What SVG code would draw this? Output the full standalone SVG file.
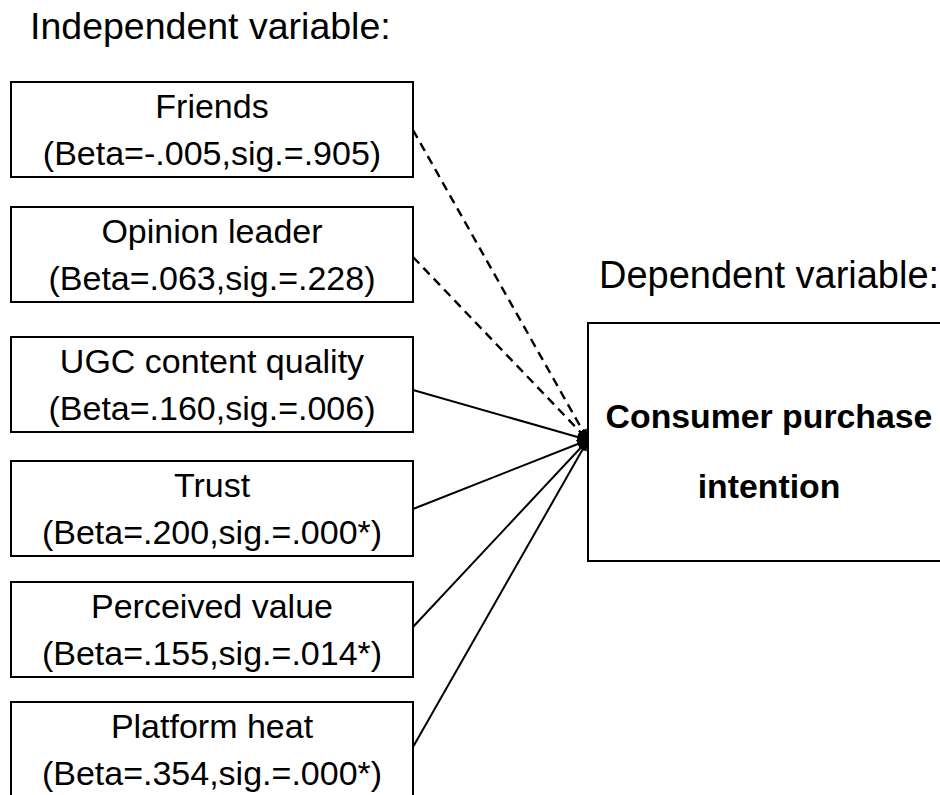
<svg xmlns="http://www.w3.org/2000/svg" width="940" height="795" viewBox="0 0 940 795">
<style>
.box{fill:#fff;stroke:#000;stroke-width:2}
.t{font-family:"Liberation Sans",Arial,sans-serif;font-size:34px;fill:#000;text-anchor:middle}
.h{font-family:"Liberation Sans",Arial,sans-serif;font-size:37.5px;fill:#000}
.b{font-family:"Liberation Sans",Arial,sans-serif;font-size:33.8px;font-weight:bold;fill:#000;text-anchor:middle}
.c{stroke:#000;stroke-width:2;fill:none;marker-end:url(#ah)}
.d{stroke-dasharray:9 6;stroke-width:2.4}
</style>
<defs>
<marker id="ah" markerUnits="userSpaceOnUse" markerWidth="12" markerHeight="10" refX="11" refY="4.5" orient="auto">
<path d="M0,0 L11,4.5 L0,9 z" fill="#000"/>
</marker>
</defs>
<rect width="940" height="795" fill="#fff"/>
<text class="h" x="30" y="39">Independent variable:</text>
<text class="h" x="599" y="288" style="font-size:38px">Dependent variable:</text>
<g id="connectors">
<line class="c d" x1="413" y1="130" x2="588" y2="440"/>
<line class="c d" x1="413" y1="257" x2="588" y2="440"/>
<line class="c" x1="413" y1="390" x2="588" y2="440"/>
<line class="c" x1="413" y1="509" x2="588" y2="440"/>
<line class="c" x1="413" y1="627" x2="588" y2="440"/>
<line class="c" x1="413" y1="747" x2="588" y2="440"/>
</g>
<g id="friends">
<rect class="box" x="11" y="82" width="402" height="95"/>
<text class="t" x="212" y="118">Friends</text>
<text class="t" x="212" y="165">(Beta=-.005,sig.=.905)</text>
</g>
<g id="opinion-leader">
<rect class="box" x="11" y="207" width="402" height="95"/>
<text class="t" x="212" y="243">Opinion leader</text>
<text class="t" x="212" y="290">(Beta=.063,sig.=.228)</text>
</g>
<g id="ugc">
<rect class="box" x="11" y="337" width="402" height="95"/>
<text class="t" x="212" y="373">UGC content quality</text>
<text class="t" x="212" y="420">(Beta=.160,sig.=.006)</text>
</g>
<g id="trust">
<rect class="box" x="11" y="461" width="402" height="95"/>
<text class="t" x="212" y="497">Trust</text>
<text class="t" x="212" y="544">(Beta=.200,sig.=.000*)</text>
</g>
<g id="perceived-value">
<rect class="box" x="11" y="582" width="402" height="95"/>
<text class="t" x="212" y="618">Perceived value</text>
<text class="t" x="212" y="665">(Beta=.155,sig.=.014*)</text>
</g>
<g id="platform-heat">
<rect class="box" x="11" y="702" width="402" height="110"/>
<text class="t" x="212" y="738">Platform heat</text>
<text class="t" x="212" y="785">(Beta=.354,sig.=.000*)</text>
</g>
<g id="consumer-purchase-intention">
<rect class="box" x="588" y="323" width="365" height="238"/>
<text class="b" x="769" y="428">Consumer purchase</text>
<text class="b" x="769" y="498">intention</text>
</g>
</svg>
